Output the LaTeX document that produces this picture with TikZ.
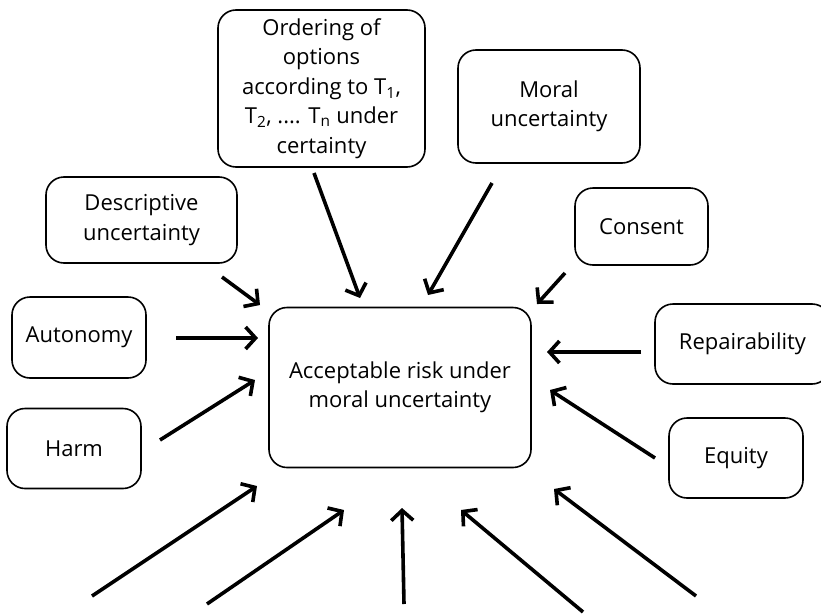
\documentclass[tikz,border=0pt]{standalone}
\usepackage{fontspec}
\setmainfont{Open Sans}
\usetikzlibrary{arrows.meta}
\tikzset{
  box/.style={draw, line width=1.6pt, rounded corners=18pt, align=center, inner sep=2pt, font=\fontsize{22}{29.5}\selectfont},
  arr/.style={line width=3.6pt, -{Straight Barb[length=10pt,width=22pt]}},
}
\begin{document}
\begin{tikzpicture}[x=1pt,y=-1pt]
\useasboundingbox (0,0) rectangle (821,613);
\node[box, minimum width=207pt, minimum height=157pt] (ord) at (321.5,88.5) {Ordering of\\options\\according to T\textsubscript{1},\\T\textsubscript{2}, .... T\textsubscript{n} under\\certainty};
\node[box, minimum width=182pt, minimum height=113pt] (moral) at (549,106.5) {Moral\\uncertainty};
\node[box, minimum width=191pt, minimum height=86pt] (desc) at (141.5,220) {Descriptive\\uncertainty};
\node[box, minimum width=133pt, minimum height=77pt] (consent) at (641.5,226.5) {Consent};
\node[box, minimum width=134pt, minimum height=81pt] (auto) at (79,337.5) {Autonomy};
\node[box, minimum width=262pt, minimum height=160pt] (center) at (400,387.5) {Acceptable risk under\\moral uncertainty};
\node[box, minimum width=175pt, minimum height=80pt] (repair) at (742.5,344) {Repairability};
\node[box, minimum width=134pt, minimum height=80pt] (harm) at (74,448.5) {Harm};
\node[box, minimum width=134pt, minimum height=80pt] (equity) at (736,458) {Equity};

\coordinate (t1) at (314,173); \coordinate (h1) at (360,298);
\coordinate (t2) at (492,183); \coordinate (h2) at (428,295);
\coordinate (t3) at (222,277); \coordinate (h3) at (260,305);
\coordinate (t4) at (565,273); \coordinate (h4) at (537,304);
\coordinate (t5) at (176,338); \coordinate (h5) at (258,338);
\coordinate (t6) at (641,352); \coordinate (h6) at (547,352);
\coordinate (t7) at (160,440); \coordinate (h7) at (255,380);
\coordinate (t8) at (655,458); \coordinate (h8) at (550,390);
\coordinate (b1t) at (92,596); \coordinate (b1h) at (257,486);
\coordinate (b2t) at (207,604); \coordinate (b2h) at (344,510);
\coordinate (b3t) at (404,604); \coordinate (b3h) at (402,508);
\coordinate (b4t) at (583,612); \coordinate (b4h) at (461,510);
\coordinate (b5t) at (696,596); \coordinate (b5h) at (554,489);
\foreach \a/\b in {t1/h1,t2/h2,t3/h3,t4/h4,t5/h5,t6/h6,t7/h7,t8/h8,b1t/b1h,b2t/b2h,b3t/b3h,b4t/b4h,b5t/b5h}
  \draw[arr] (\a) -- (\b);
\end{tikzpicture}
\end{document}
